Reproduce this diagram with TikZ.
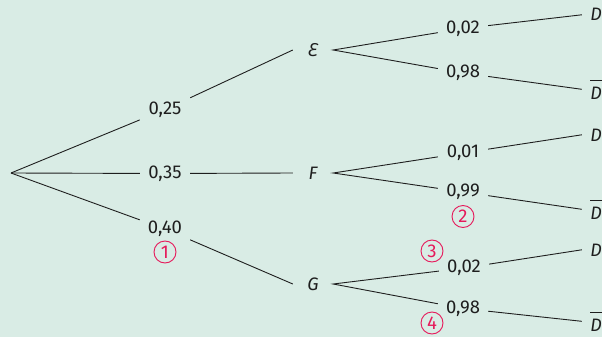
\documentclass[tikz,border=0pt]{standalone}
\usepackage{fontspec}
\setmainfont{Fira Sans}
\newfontfamily\epsfont{Noto Sans}
\definecolor{bg}{RGB}{217,236,229}
\definecolor{pk}{RGB}{230,25,90}
\definecolor{ln}{RGB}{30,30,30}
\newcommand\myDbar{\rlap{\rule[18.5pt]{12pt}{0.9pt}}D}
\begin{document}
\begin{tikzpicture}[x=1pt,y=-1pt,
  every node/.style={font=\fontsize{18.5}{21}\selectfont, text=ln},
  lab1/.style={inner sep=0pt, minimum width=50pt, minimum height=24pt},
  lab2/.style={inner sep=0pt, minimum width=50pt, minimum height=20pt},
  ev/.style={inner sep=0pt, minimum width=40pt, minimum height=16pt, font=\fontsize{18}{21}\selectfont\itshape},
  leaf/.style={inner sep=0pt, minimum width=28pt, anchor=base, font=\fontsize{18}{21}\selectfont\itshape},
  br/.style={draw=ln, line width=0.9pt},
  num/.style={circle, draw=pk, line width=0.9pt, minimum size=22pt, inner sep=0pt, text=pk}]
\fill[bg] (0,0) rectangle (602,337);
\useasboundingbox (0,0) rectangle (602,337);
\coordinate (root) at (11,173);
\node[lab1] (a1) at (165,109.5) {0,25};
\node[lab1] (a2) at (165,173.5) {0,35};
\node[lab1] (a3) at (165,229) {0,40};
\node[ev] (E) at (313,50) {{\epsfont Ɛ}};
\node[ev] (F) at (313,173) {F};
\node[ev] (G) at (313,284) {G};
\node[lab2] (e1) at (463,28.5) {0,02};
\node[lab2] (e2) at (463,73) {0,98};
\node[lab2] (f1) at (463,153) {0,01};
\node[lab2] (f2) at (463,192) {0,99};
\node[lab2] (g1) at (464,268) {0,02};
\node[lab2] (g2) at (463,308.5) {0,98};
\node[leaf] (e1d) at (596,21) {D};
\node[leaf] (e2d) at (596,99) {\myDbar};
\node[leaf] (f1d) at (596,141) {D};
\node[leaf] (f2d) at (596,219) {\myDbar};
\node[leaf] (g1d) at (596,256) {D};
\node[leaf] (g2d) at (596,331) {\myDbar};
\node[num] (c1) at (165,252) {1};
\node[num] (c2) at (463,216.5) {2};
\node[num] (c3) at (432,251) {3};
\node[num] (c4) at (432,323) {4};
\draw[br] (root) -- (a1) -- (E.west);
\draw[br] (root) -- (a2) -- (F.west);
\draw[br] (root) -- (a3) -- (G.west);
\draw[br] (e1d.west) -- (e1) -- (E.east) -- (e2) -- (e2d.west);
\draw[br] (f1d.west) -- (f1) -- (F.east) -- (f2) -- (f2d.west);
\draw[br] (g1d.west) -- (g1) -- (G.east) -- (g2) -- (g2d.west);
\end{tikzpicture}
\end{document}
